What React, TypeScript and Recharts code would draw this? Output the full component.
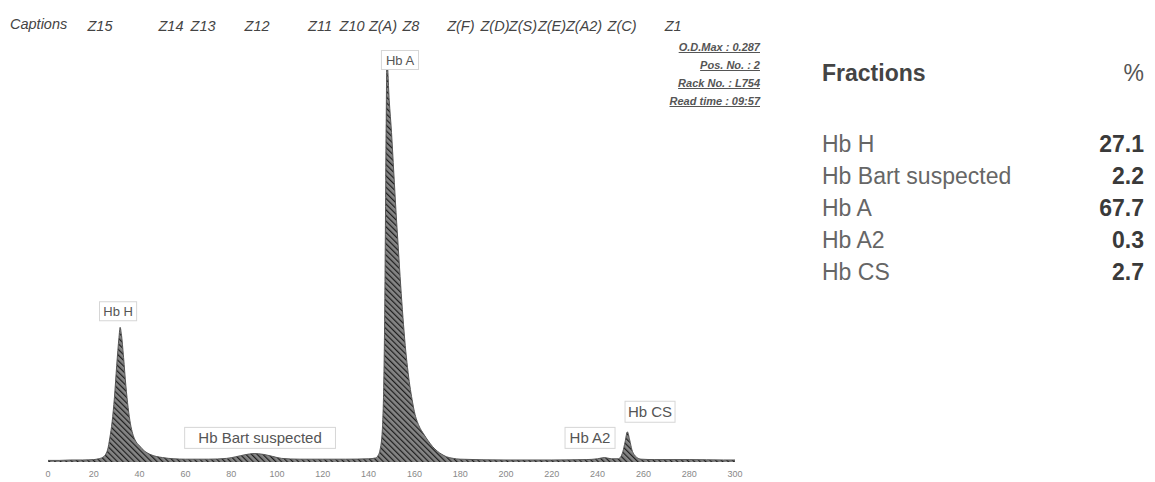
import { Area, AreaChart, ReferenceDot, XAxis, YAxis } from "recharts";

// migration time (x) and absorbance, scaled so Hb A peak = 100
const migration = [
  0, 5, 10, 15, 20, 22, 24, 26, 27, 28, 29, 30, 31, 31.5, 32, 33, 34, 35, 36, 37, 38, 40, 42, 45, 50, 55, 60,
  70, 78, 82, 86, 90, 94, 98, 102, 110, 120, 130, 140, 143, 144, 145, 146, 147, 147.5, 148, 149, 150, 151,
  152, 153, 154, 155, 156, 157, 158, 159, 160, 162, 164, 166, 168, 170, 172, 174, 177, 180, 200, 220, 235,
  240, 243, 246, 249, 250, 251, 252, 253, 254, 255, 256, 257, 259, 265, 280, 295, 300,
];
const absorbance = [
  0.4, 0.4, 0.5, 0.5, 0.6, 0.8, 1.2, 3, 6, 10, 16, 24, 31, 33.5, 32, 26, 19, 13.5, 9.5, 7, 5.5, 4, 2.8, 1.8,
  1.1, 0.8, 0.7, 0.7, 0.9, 1.3, 1.8, 2.1, 1.9, 1.4, 0.9, 0.7, 0.7, 0.7, 0.8, 1, 1.5, 3, 8, 35, 70, 100, 90, 82,
  72, 62, 53, 44, 36, 29, 23.5, 19, 15.5, 12.5, 9, 7, 5.3, 3.8, 2.7, 1.9, 1.3, 0.9, 0.7, 0.5, 0.5, 0.6, 0.8,
  1.1, 0.8, 0.8, 1.2, 2.5, 5, 7.5, 5.5, 3, 1.8, 1.2, 0.7, 0.6, 0.6, 0.5, 0.5,
];

const xTicks = [0, 20, 40, 60, 80, 100, 120, 140, 160, 180, 200, 220, 240, 260, 280, 300];

const zoneTicks = [22.7, 53.7, 67.7, 91.3, 118.8, 132.8, 146.3, 158.5, 180.3, 195.2, 207.4, 220.1, 234.1, 250.7, 273];
const zoneLabels = ["Z15", "Z14", "Z13", "Z12", "Z11", "Z10", "Z(A)", "Z8", "Z(F)", "Z(D)", "Z(S)", "Z(E)", "Z(A2)", "Z(C)", "Z1"];

// peak captions, anchored in data units
const peakNames = ["Hb H", "Hb Bart suspected", "Hb A", "Hb A2", "Hb CS"];
const peakX = [30.6, 92.6, 153.7, 236.7, 262.9];
const peakY = [37.5, 6, 100, 6, 12.5];

const fractionNames = ["Hb H", "Hb Bart suspected", "Hb A", "Hb A2", "Hb CS"];
const fractionValues = ["27.1", "2.2", "67.7", "0.3", "2.7"];

const runInfo = ["O.D.Max : 0.287", "Pos. No. : 2", "Rack No. : L754", "Read time : 09:57"];

const data = migration.map((x, i) => ({ x, y: absorbance[i] }));

const FONT = '"Liberation Sans", Arial, sans-serif';

function ZoneTick(props: any) {
  const { x, y, index } = props;
  return (
    <text x={x} y={y - 21} textAnchor="middle" fontSize={14.5} fontStyle="italic" fill="#444" fontFamily={FONT}>
      {zoneLabels[index]}
    </text>
  );
}

function PeakTag(props: any) {
  const { cx, cy, name } = props;
  const big = name !== "Hb H" && name !== "Hb A";
  const fs = big ? 15 : 13;
  const w = name.length * fs * 0.56 + 8;
  const h = fs + 6;
  return (
    <g>
      <rect x={cx - w / 2} y={cy - h / 2} width={w} height={h} fill="#fff" stroke="#d6d6d6" strokeWidth={1} />
      <text x={cx} y={cy + fs * 0.36} textAnchor="middle" fontSize={fs} fill="#555" fontFamily={FONT}>
        {name}
      </text>
    </g>
  );
}

export default function App() {
  return (
    <div style={{ position: "absolute", left: 0, top: 0, width: 1155, height: 482, background: "#fff", fontFamily: FONT }}>
      <span style={{ position: "absolute", left: 10, top: 16, fontSize: 14.5, fontStyle: "italic", color: "#444" }}>
        Captions
      </span>

      <div style={{ position: "absolute", right: 1155 - 760, top: 38, textAlign: "right" }}>
        {runInfo.map((t) => (
          <div
            key={t}
            style={{ fontSize: 11, fontStyle: "italic", fontWeight: 600, color: "#555", textDecoration: "underline", lineHeight: "18px" }}
          >
            {t}
          </div>
        ))}
      </div>

      <AreaChart width={780} height={482} data={data} margin={{ top: 30, right: 45, bottom: 0, left: 48 }}>
        <defs>
          <pattern id="hatch" width="4" height="4" patternUnits="userSpaceOnUse" patternTransform="rotate(-45)">
            <rect width="4" height="4" fill="#858585" />
            <line x1="0" y1="0" x2="0" y2="4" stroke="#1e1e1e" strokeWidth="2.4" />
          </pattern>
        </defs>
        <XAxis
          dataKey="x"
          type="number"
          domain={[0, 300]}
          ticks={xTicks}
          axisLine={false}
          tickLine={false}
          height={20}
          tickMargin={3}
          tick={{ fontSize: 9, fill: "#888", fontFamily: FONT }}
        />
        <XAxis
          xAxisId="top"
          orientation="top"
          dataKey="x"
          type="number"
          domain={[0, 300]}
          ticks={zoneTicks}
          axisLine={false}
          tickLine={false}
          height={30}
          tick={<ZoneTick />}
          interval={0}
        />
        <YAxis hide domain={[0, 100]} width={0} />
        <Area
          type="monotone"
          dataKey="y"
          stroke="#555"
          strokeWidth={1}
          fill="url(#hatch)"
          fillOpacity={1}
          isAnimationActive={false}
        />
        {peakNames.map((n, i) => (
          <ReferenceDot
            key={n}
            x={peakX[i]}
            y={peakY[i]}
            r={0}
            ifOverflow="visible"
            shape={(p: any) => <PeakTag {...p} name={n} />}
          />
        ))}
      </AreaChart>

      <div style={{ position: "absolute", left: 822, top: 58, width: 322, color: "#444" }}>
        <div style={{ display: "flex", justifyContent: "space-between", fontSize: 23, lineHeight: "30px" }}>
          <span style={{ fontWeight: 600 }}>Fractions</span>
          <span style={{ color: "#555" }}>%</span>
        </div>
        <div style={{ marginTop: 40 }}>
          {fractionNames.map((n, i) => (
            <div key={n} style={{ display: "flex", justifyContent: "space-between", fontSize: 23, lineHeight: "32px" }}>
              <span style={{ color: "#666" }}>{n}</span>
              <span style={{ fontWeight: 600, color: "#3a3a3a" }}>{fractionValues[i]}</span>
            </div>
          ))}
        </div>
      </div>
    </div>
  );
}
